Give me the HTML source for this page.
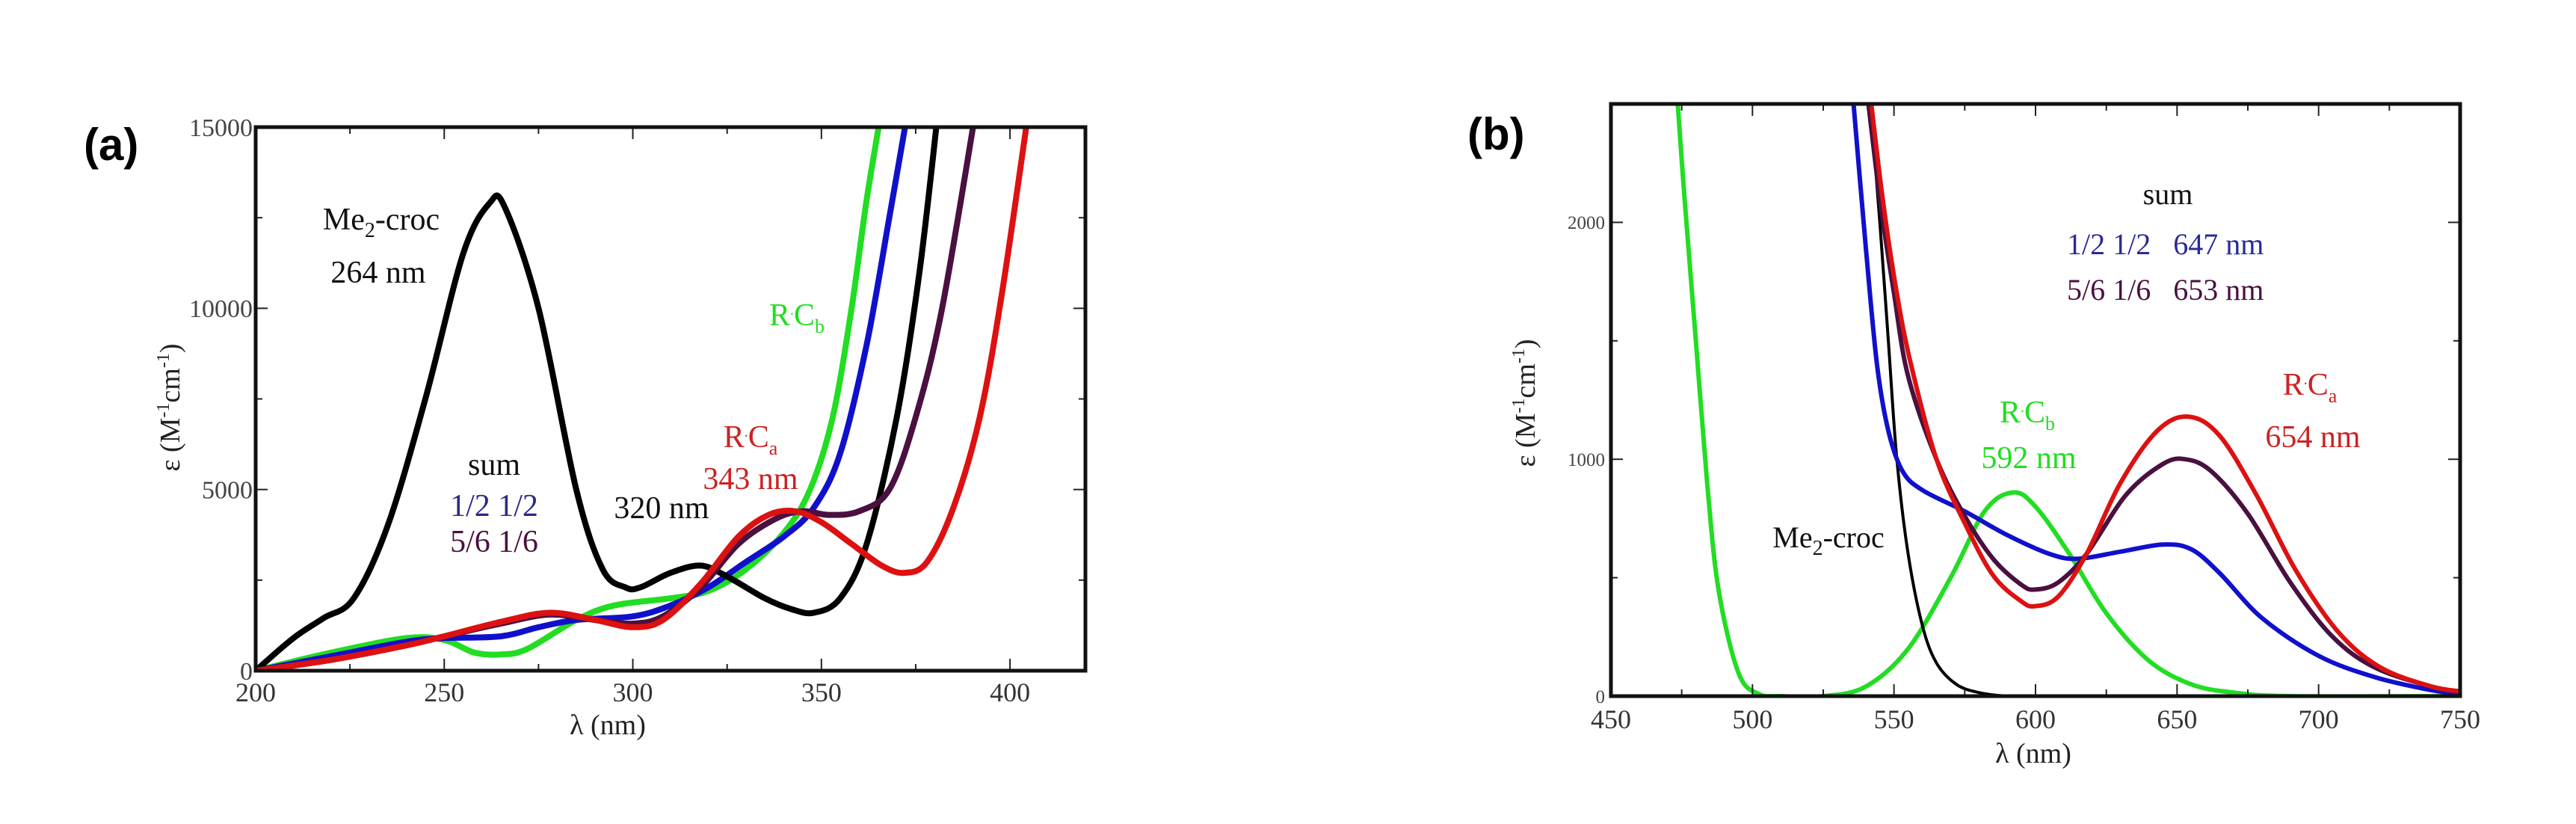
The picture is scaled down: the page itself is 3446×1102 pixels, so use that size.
<!DOCTYPE html>
<html><head><meta charset="utf-8"><style>
html,body{margin:0;padding:0;background:#fff;}
svg{display:block;}
</style></head><body>
<svg id="fig" width="3446" height="1102" viewBox="0 0 3446 1102" font-family="Liberation Serif, serif">
<defs>
<clipPath id="ca"><rect x="342" y="170" width="1110" height="727"/></clipPath>
<clipPath id="cb"><rect x="2155" y="139" width="1136" height="792"/></clipPath>
</defs>
<text x="112" y="214" font-family="Liberation Sans, sans-serif" font-weight="bold" font-size="60">(a)</text>
<text x="1963" y="200" font-family="Liberation Sans, sans-serif" font-weight="bold" font-size="60">(b)</text>
<g id="pa"></g>
<g id="pb"></g>
</svg>
<script>
// ---------- Panel (a) data ----------
const aMeX=[200,210,218,226,235,245,255,262,266,275,285,292,298,302,310,318,325,335,342,348,355,362,370,376,381];
const aMeY=[0,900,1450,2000,4000,7500,11500,12900,12800,10000,5000,2800,2300,2300,2700,2900,2600,2000,1700,1600,2000,3500,7000,11000,15500];
const aGrX=[200,220,240,250,258,265,272,285,295,310,320,330,340,347,353,358,362,366];
const aGrY=[0,500,900,850,500,450,600,1400,1800,2000,2200,2800,3800,5000,7000,10000,13000,15500];
const aBlX=[200,220,240,250,265,275,285,300,310,320,330,340,348,355,362,368,373];
const aBlY=[0,400,800,900,950,1200,1400,1500,1800,2300,3000,3700,4500,6000,9000,12500,15500];
const aPuX=[200,220,240,250,265,278,290,300,308,318,328,338,345,352,360,368,375,382,391];
const aPuY=[0,300,700,950,1300,1550,1400,1300,1500,2300,3500,4200,4400,4300,4400,5000,7000,10000,15500];
const aRdX=[200,220,240,250,265,278,290,300,308,318,328,336,343,350,358,366,372,378,385,392,398,405];
const aRdY=[0,300,700,950,1350,1600,1400,1200,1400,2400,3700,4300,4400,4100,3500,2900,2700,3000,4500,7000,10500,15500];
const aXTicks=[200,250,300,350,400];
const aYTicks=[0,5000,10000,15000];
// ---------- Panel (b) data ----------
const bGrX=[473,476,480,484,488,495,502,510,525,540,555,570,582,592,600,612,625,640,655,670,690,750];
const bGrY=[2600,2100,1500,900,450,100,10,0,0,40,200,500,780,860,800,600,350,150,50,15,0,0];
const bBkX=[541,545,548,551,555,560,565,572,580,590,600];
const bBkY=[2600,2000,1500,1000,600,300,140,50,15,0,0];
const bBlX=[535,540,544,548,553,560,575,590,605,615,630,645,655,665,680,700,720,740,750];
const bBlY=[2600,1900,1400,1120,950,870,780,680,600,580,610,640,620,520,330,170,80,25,10];
const bPuX=[540,545,550,555,565,575,585,595,600,608,618,632,645,653,662,675,690,705,720,740,750];
const bPuY=[2600,2100,1700,1350,1000,760,580,470,450,480,600,850,980,1000,950,770,480,250,120,40,20];
const bRdX=[541,546,551,556,565,575,585,595,600,608,618,630,643,654,665,678,692,707,722,740,750];
const bRdY=[2600,2100,1700,1400,1000,730,510,400,380,420,600,900,1120,1180,1100,850,530,270,120,40,20];
const bXTicks=[450,500,550,600,650,700,750];
const bYTicks=[0,1000,2000];

const NS="http://www.w3.org/2000/svg";
const SERIF="Liberation Serif, serif";
function mk(tag,attrs,parent){const e=document.createElementNS(NS,tag);for(const k in attrs)e.setAttribute(k,attrs[k]);parent.appendChild(e);return e;}
function scale(d0,d1,r0,r1){return v=>r0+(v-d0)/(d1-d0)*(r1-r0);}
function smooth(xs,ys,sx,sy){
  const p=xs.map((x,i)=>[sx(x),sy(ys[i])]);
  let d="M"+p[0][0].toFixed(1)+","+p[0][1].toFixed(1);
  for(let i=0;i<p.length-1;i++){
    const p0=p[i-1]||p[i],p1=p[i],p2=p[i+1],p3=p[i+2]||p2;
    const c1=[p1[0]+(p2[0]-p0[0])/6,p1[1]+(p2[1]-p0[1])/6];
    const c2=[p2[0]-(p3[0]-p1[0])/6,p2[1]-(p3[1]-p1[1])/6];
    d+=" C"+c1[0].toFixed(1)+","+c1[1].toFixed(1)+" "+c2[0].toFixed(1)+","+c2[1].toFixed(1)+" "+p2[0].toFixed(1)+","+p2[1].toFixed(1);
  }
  return d;
}
function axes(g,L,T,W,H,sx,sy,xT,yT,xMinor,yMinor,x0,x1,y0,y1,xfs,yfs,xly,ytx){
  for(let v=x0;v<=x1+1e-9;v+=xMinor){
    const major=xT.includes(v);const len=major?16:9;const X=sx(v);
    const t1=mk('line',{x1:X,y1:T+H,x2:X,y2:T+H-len,stroke:'#222','stroke-width':2},g);
    
    
    const t2=mk('line',{x1:X,y1:T,x2:X,y2:T+len,stroke:'#222','stroke-width':2},g);
    
    
  }
  for(let v=y0;v<=y1+1e-9;v+=yMinor){
    const major=yT.includes(v);const len=major?16:9;const Y=sy(v);
    const t1=mk('line',{x1:L,y1:Y,x2:L+len,y2:Y,stroke:'#222','stroke-width':2},g);
    
    
    const t2=mk('line',{x1:L+W,y1:Y,x2:L+W-len,y2:Y,stroke:'#222','stroke-width':2},g);
    
    
  }
  xT.forEach(v=>{const t=mk('text',{x:sx(v),y:xly,'text-anchor':'middle','font-size':xfs,fill:'#333','font-family':SERIF},g);t.textContent=v;
    
    });
  yT.forEach(v=>{const t=mk('text',{x:ytx,y:sy(v)+yfs*0.35,'text-anchor':'end','font-size':yfs,fill:'#444','font-family':SERIF},g);t.textContent=v;
    
    });
}
function series(g,xs,ys,sx,sy,color,w,clip,name){
  const p=mk('path',{d:smooth(xs,ys,sx,sy),fill:'none',stroke:color,'stroke-width':w,'stroke-linejoin':'round','clip-path':'url(#'+clip+')'},g);
  
  
}
// parts: array of [text, dy, fontSize|null]
function label(g,x,y,fs,color,parts,name,anchor,transform){
  const a={x:x,y:y,'font-size':fs,fill:color,'text-anchor':anchor||'middle','font-family':SERIF};
  if(transform)a.transform=transform;
  const t=mk('text',a,g);
  parts.forEach(p=>{
    const s=mk('tspan',{'font-family':SERIF},t);
    if(p[1])s.setAttribute('dy',p[1]);
    if(p[2])s.setAttribute('font-size',p[2]);
    s.textContent=p[0];
  });
  
  
}
const RCB=[['R',0],['.',-14,20],['C',14],['b',10,26]];
const RCA=[['R',0],['.',-14,20],['C',14],['a',10,26]];
const ME=[['Me',0],['2',10,28],['-croc',-10]];
const EPS=[['ε (M',0],['-1',-14,24],['cm',14],['-1',-14,24],[')',14]];
const GREEN='#22dd22',BLUE='#1010cc',PURPLE='#4a1040',RED='#dd1111';
// ---- Panel a ----
(function(){
  const g=document.getElementById('pa');
  const L=342,T=170,W=1110,H=727;
  const sx=scale(200,420,L,L+W),sy=scale(0,15000,T+H,T);
  series(g,aGrX,aGrY,sx,sy,GREEN,8,'ca','rcb-line-a');
  series(g,aBlX,aBlY,sx,sy,BLUE,8,'ca','sum-half-line-a');
  series(g,aMeX,aMeY,sx,sy,'#000',8,'ca','me2-croc-line-a');
  series(g,aPuX,aPuY,sx,sy,PURPLE,8,'ca','sum-56-line-a');
  series(g,aRdX,aRdY,sx,sy,RED,8,'ca','rca-line-a');
  axes(g,L,T,W,H,sx,sy,aXTicks,aYTicks,25,2500,200,420,0,15000,36,34,938,338);
  const f=mk('rect',{x:L,y:T,width:W,height:H,fill:'none',stroke:'#111','stroke-width':5},g);
  
  
  label(g,813,982,38,'#222',[['λ (nm)',0]],'x-axis-title-a');
  label(g,0,0,38,'#222',EPS,'y-axis-title-a','middle','translate(240,545) rotate(-90)');
  label(g,510,307,42,'#111',ME,'me2-croc-label-a');
  label(g,506,378,42,'#111',[['264 nm',0]],'me2-croc-peak-a');
  label(g,661,635,42,'#111',[['sum',0]],'sum-label-a');
  label(g,661,690,42,'#2a2a88',[['1/2 1/2',0]],'sum-half-label-a');
  label(g,661,738,42,'#4a1040',[['5/6 1/6',0]],'sum-56-label-a');
  label(g,885,693,42,'#111',[['320 nm',0]],'peak-320-label-a');
  label(g,1066,435,42,GREEN,RCB,'rcb-label-a');
  label(g,1004,598,42,'#cc2222',RCA,'rca-label-a');
  label(g,1004,654,42,'#cc2222',[['343 nm',0]],'rca-peak-a');
})();
// ---- Panel b ----
(function(){
  const g=document.getElementById('pb');
  const L=2155,T=139,W=1136,H=792;
  const sx=scale(450,750,L,L+W),sy=scale(0,2500,T+H,T);
  series(g,bGrX,bGrY,sx,sy,GREEN,6,'cb','rcb-line-b');
  series(g,bBkX,bBkY,sx,sy,'#000',4,'cb','me2-croc-line-b');
  series(g,bBlX,bBlY,sx,sy,BLUE,6,'cb','sum-half-line-b');
  series(g,bPuX,bPuY,sx,sy,PURPLE,6,'cb','sum-56-line-b');
  series(g,bRdX,bRdY,sx,sy,RED,6,'cb','rca-line-b');
  axes(g,L,T,W,H,sx,sy,bXTicks,bYTicks,25,500,450,750,0,2500,36,25,974,2147);
  const f=mk('rect',{x:L,y:T,width:W,height:H,fill:'none',stroke:'#111','stroke-width':5},g);
  
  
  label(g,2720,1020,38,'#222',[['λ (nm)',0]],'x-axis-title-b');
  label(g,0,0,38,'#222',EPS,'y-axis-title-b','middle','translate(2053,539) rotate(-90)');
  label(g,2900,273,40,'#111',[['sum',0]],'sum-label-b');
  label(g,2765,340,40,'#2a2a99',[['1/2 1/2\u00a0\u00a0\u00a0647 nm',0]],'sum-half-label-b','start');
  label(g,2765,401,40,'#4a1040',[['5/6 1/6\u00a0\u00a0\u00a0653 nm',0]],'sum-56-label-b','start');
  label(g,2712,565,42,GREEN,RCB,'rcb-label-b');
  label(g,2714,626,42,GREEN,[['592 nm',0]],'rcb-peak-b');
  label(g,3090,528,42,'#cc2222',RCA,'rca-label-b');
  label(g,3094,598,42,'#cc2222',[['654 nm',0]],'rca-peak-b');
  label(g,2446,732,40,'#111',ME,'me2-croc-label-b');
})();
</script>
</body></html>
